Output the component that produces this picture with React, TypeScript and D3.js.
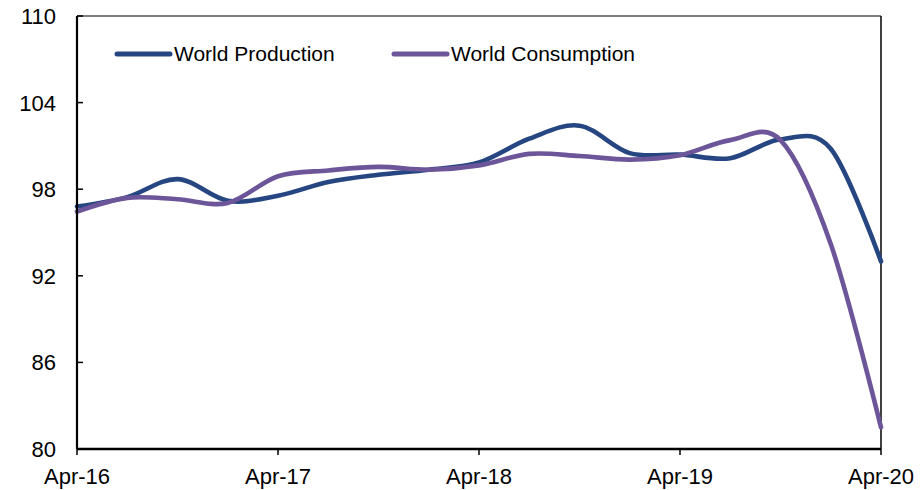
import React from "react";
import * as d3 from "d3";

// Quarterly observations, Apr-16 through Apr-20
const quarters = [
  "Apr-16", "Jul-16", "Oct-16", "Jan-17",
  "Apr-17", "Jul-17", "Oct-17", "Jan-18",
  "Apr-18", "Jul-18", "Oct-18", "Jan-19",
  "Apr-19", "Jul-19", "Oct-19", "Jan-20",
  "Apr-20",
];

const worldProduction = [
  96.8, 97.45, 98.7, 97.2,
  97.55, 98.5, 99.0, 99.35,
  99.85, 101.5, 102.4, 100.5,
  100.4, 100.15, 101.45, 100.8,
  93.0,
];

const worldConsumption = [
  96.45, 97.4, 97.3, 97.05,
  98.9, 99.3, 99.55, 99.35,
  99.65, 100.45, 100.3, 100.05,
  100.35, 101.4, 101.4, 94.2,
  81.5,
];

const yTicks = [80, 86, 92, 98, 104, 110];
const xTickLabels = ["Apr-16", "Apr-17", "Apr-18", "Apr-19", "Apr-20"];

const seriesNames = ["World Production", "World Consumption"];
const seriesColors = ["#264682", "#6c5599"];

const W = 921;
const H = 490;
const M = { left: 77, right: 881, top: 16, bottom: 449 };
const FONT = "'Liberation Sans', Arial, sans-serif";

export default function App() {
  const x = d3.scaleLinear().domain([0, quarters.length - 1]).range([M.left, M.right]);
  const y = d3.scaleLinear().domain([80, 110]).range([M.bottom, M.top]);

  const line = d3
    .line<number>()
    .x((_, i) => x(i))
    .y((d) => y(d))
    .curve(d3.curveCatmullRom.alpha(0));

  const series = [worldProduction, worldConsumption];

  return (
    <svg
      width={W}
      height={H}
      style={{ position: "absolute", left: 0, top: 0, background: "#fff" }}
      fontFamily={FONT}
    >
      {/* plot frame: thin top and right edges */}
      <line x1={M.left} x2={M.right} y1={M.top} y2={M.top} stroke="#000" strokeWidth={1.2} />
      <line x1={M.right} x2={M.right} y1={M.top} y2={M.bottom} stroke="#000" strokeWidth={1.5} />

      {/* data lines */}
      {series.map((s, k) => (
        <path
          key={k}
          d={line(s) || ""}
          fill="none"
          stroke={seriesColors[k]}
          strokeWidth={4.6}
          strokeLinejoin="round"
          strokeLinecap="round"
        />
      ))}

      {/* y axis */}
      <line x1={M.left} x2={M.left} y1={M.top} y2={M.bottom} stroke="#000" strokeWidth={2.2} />
      {yTicks.map((t) => (
        <g key={t}>
          <line x1={M.left} x2={M.left + 6} y1={y(t)} y2={y(t)} stroke="#000" strokeWidth={1.5} />
          <text x={56} y={y(t)} dy="0.36em" textAnchor="end" fontSize={22} fill="#000">
            {t}
          </text>
        </g>
      ))}

      {/* x axis */}
      <line x1={M.left} x2={M.right} y1={M.bottom} y2={M.bottom} stroke="#000" strokeWidth={2.4} />
      {xTickLabels.map((lab) => {
        const i = quarters.indexOf(lab);
        return (
          <g key={lab}>
            <line x1={x(i)} x2={x(i)} y1={M.bottom} y2={M.bottom + 6} stroke="#000" strokeWidth={1.5} />
            <text x={x(i)} y={484} textAnchor="middle" fontSize={22} fill="#000">
              {lab}
            </text>
          </g>
        );
      })}

      {/* legend */}
      {seriesNames.map((name, k) => {
        const lx = k === 0 ? 117 : 394;
        return (
          <g key={name}>
            <line
              x1={lx}
              x2={lx + 53}
              y1={54}
              y2={54}
              stroke={seriesColors[k]}
              strokeWidth={5}
              strokeLinecap="round"
            />
            <text x={lx + 57} y={61} fontSize={21} fill="#000">
              {name}
            </text>
          </g>
        );
      })}
    </svg>
  );
}
